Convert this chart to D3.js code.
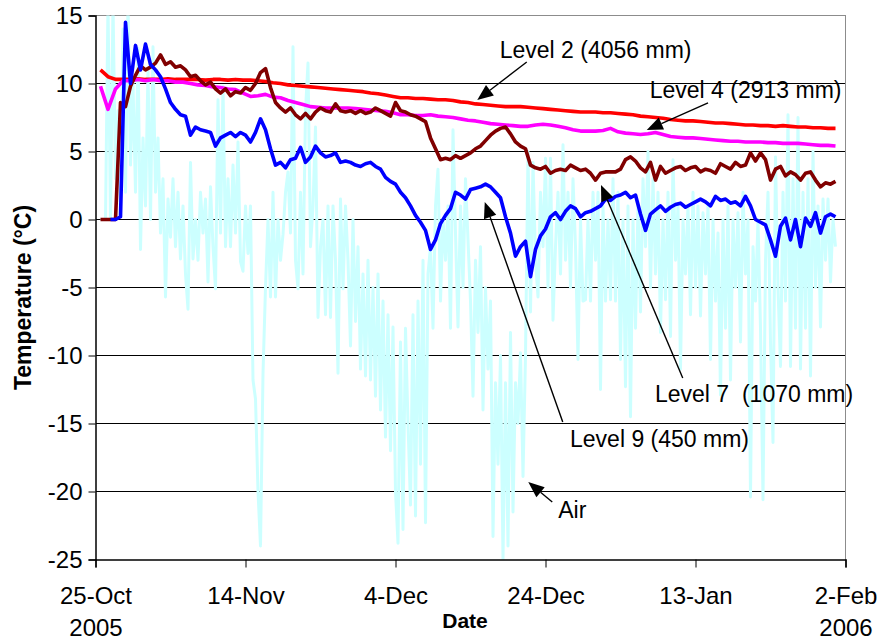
<!DOCTYPE html>
<html>
<head>
<meta charset="utf-8">
<script src="https://cdn.jsdelivr.net/npm/d3@7"></script>
<style>
  body { margin: 0; background: #fff; }
  text { font-family: "Liberation Sans", Arial, sans-serif; fill: #000; }
</style>
</head>
<body>
<svg id="chart" width="881" height="640"></svg>
<script>
// ---- axis ticks ----
const yTicks = [15, 10, 5, 0, -5, -10, -15, -20, -25];
const xTickDates = ["2005-10-25", "2005-11-14", "2005-12-04", "2005-12-24", "2006-01-13", "2006-02-02"];
const xTickYears = ["2005", "", "", "", "", "2006"];

// ---- series: first reading (hours after 25-Oct 00:00), interval (hours), values in °C ----
const level2Start = 16, level2Step = 24;
const level2 = [11.0, 10.5, 10.3, 10.3, 10.3, 10.35, 10.3, 10.3, 10.3, 10.35, 10.3, 10.3, 10.3, 10.3, 10.25, 10.3, 10.3, 10.25, 10.3, 10.25,
  10.25, 10.2, 10.15, 10.05, 10.0, 9.9, 9.85, 9.8, 9.75, 9.7, 9.65, 9.6, 9.55, 9.5, 9.45, 9.4, 9.3, 9.25, 9.15, 9.05,
  8.95, 8.95, 8.9, 8.9, 8.85, 8.8, 8.8, 8.75, 8.65, 8.6, 8.5, 8.45, 8.4, 8.35, 8.3, 8.3, 8.3, 8.25, 8.2, 8.15,
  8.1, 8.05, 8.0, 7.95, 7.9, 7.9, 7.9, 7.85, 7.85, 7.8, 7.75, 7.7, 7.6, 7.55, 7.5, 7.45, 7.35, 7.3, 7.25, 7.25,
  7.2, 7.15, 7.1, 7.1, 7.05, 7.0, 6.95, 6.95, 6.9, 6.9, 6.85, 6.9, 6.85, 6.8, 6.8, 6.75, 6.75, 6.7, 6.7];

const level4Start = 16, level4Step = 24;
const level4 = [9.8, 8.1, 9.6, 10.2, 10.2, 10.3, 10.2, 10.3, 10.2, 10.2, 10.1, 10.1, 10.0, 9.9, 9.85, 9.75, 9.7, 9.6, 9.55, 9.3,
  9.05, 9.1, 9.2, 9.0, 8.95, 8.75, 8.6, 8.45, 8.3, 8.25, 8.2, 8.2, 8.2, 8.2, 8.15, 8.1, 8.05, 8.0, 7.95, 7.85,
  7.7, 7.7, 7.65, 7.65, 7.7, 7.6, 7.55, 7.5, 7.4, 7.3, 7.25, 7.15, 7.05, 7.0, 6.95, 6.9, 6.85, 6.85, 6.95, 7.0,
  6.95, 6.85, 6.75, 6.6, 6.5, 6.5, 6.5, 6.55, 6.7, 6.45, 6.35, 6.3, 6.25, 6.3, 6.4, 6.25, 6.1, 6.05, 6.0, 6.0,
  5.95, 5.9, 5.85, 5.8, 5.75, 5.75, 5.7, 5.7, 5.7, 5.65, 5.65, 5.6, 5.6, 5.6, 5.55, 5.5, 5.45, 5.45, 5.4];

const level7Start = 16, level7Step = 16;
const level7 = [0, 0, 0, 0, 8.6, 8.3, 9.8, 10.6, 11.3, 11.0, 11.2, 11.5, 12.1, 11.4, 11.6, 11.2, 11.3, 11.0, 10.5, 10.6,
  10.2, 9.9, 10.1, 9.6, 9.3, 9.6, 9.1, 9.4, 9.3, 9.7, 9.5, 10.0, 10.8, 11.1, 9.7, 8.6, 8.2, 7.9, 8.2, 7.7,
  7.4, 7.8, 7.4, 7.9, 8.2, 8.0, 7.9, 8.5, 8.0, 7.9, 8.0, 7.8, 8.0, 7.8, 7.9, 8.2, 8.0, 7.8, 7.6, 8.6,
  8.0, 7.9, 7.7, 7.6, 7.4, 7.2, 6.0, 5.2, 4.4, 4.5, 4.4, 4.7, 4.5, 4.7, 4.9, 5.2, 5.4, 5.8, 6.2, 6.5,
  6.7, 6.8, 6.3, 5.7, 5.4, 5.2, 4.0, 3.8, 3.7, 3.9, 3.4, 3.6, 3.7, 3.6, 4.0, 3.8, 3.6, 3.7, 3.4, 2.9,
  3.4, 3.5, 3.5, 3.5, 3.7, 4.4, 4.6, 4.3, 3.8, 3.5, 4.2, 2.9, 3.9, 3.4, 3.6, 3.8, 3.9, 3.6, 3.8, 3.9,
  3.5, 3.7, 3.6, 3.4, 4.1, 3.9, 3.7, 4.2, 3.9, 4.0, 4.9, 4.3, 4.9, 4.4, 2.9, 3.7, 3.9, 3.2, 3.5, 3.3,
  2.9, 3.4, 3.5, 2.9, 2.4, 2.7, 2.6, 2.8];

const level9Start = 48, level9Step = 16;
const level9 = [0, 0, 0.2, 14.5, 10.0, 12.8, 11.0, 12.9, 11.4, 11.0, 10.5, 9.6, 8.6, 8.1, 7.7, 7.6, 6.2, 6.8, 6.6, 6.5,
  6.4, 5.4, 6.0, 6.2, 6.4, 6.1, 6.4, 6.2, 5.7, 6.4, 7.4, 6.6, 5.2, 4.0, 4.2, 3.8, 4.4, 4.5, 5.3, 4.2,
  4.6, 5.4, 4.9, 4.6, 4.7, 4.9, 4.2, 4.3, 4.2, 4.0, 3.9, 4.1, 4.2, 3.9, 3.7, 3.1, 2.8, 2.6, 2.0, 1.6,
  1.0, 0.3, -0.2, -0.8, -2.2, -1.5, -0.3, 0.3, 0.8, 2.0, 1.8, 1.5, 2.2, 2.3, 2.4, 2.6, 2.4, 2.0, 1.6, 0.2,
  -1.0, -2.7, -2.0, -1.6, -4.2, -2.2, -1.2, -0.7, 0.2, 0.5, 0.0, 0.6, 1.0, 0.8, 0.2, 0.5, 0.6, 0.8, 1.0, 1.5,
  1.4, 1.7, 1.8, 2.0, 1.6, 1.8, 0.4, -0.8, 0.4, 0.7, 1.0, 0.6, 0.9, 1.1, 1.2, 0.9, 1.1, 1.3, 1.5, 1.3,
  1.0, 1.7, 1.4, 1.5, 1.2, 1.3, 1.0, 1.7, 1.0, 0.0, -0.2, -0.4, -1.5, -2.7, -0.5, 0.1, -1.5, 0.0, -2.0, 0.1,
  -0.5, 0.5, -1.0, 0.2, 0.4, 0.2];

const airStart = 16, airStep = 8;
const air = [0, 0, 0, 16, 0, 16, 3, 8, 1, 14, 2, 16, 4, 10, 2, 12.6, -2.2, 6, 1, 11,
  0, 12.7, 2, 6, -1, 3, -5.7, 1.5, -1.3, 3, -2, 2, -2.9, 1, -4, -6.6, 4.2, -2.9, 0, -3,
  2, -1, 1.5, -4.6, 2.4, -2, -5.1, 8.8, -1, 9.8, -2, 3, -2, 4, -1, 5.7, -3.1, -3.8, 1, -2.5,
  1, -11.8, -13.2, -20, -24, -11.3, -5, 0, -5.7, 2, -5.7, 0, -3, -1.1, 2, 3.5, -1, 12.7, -3, -5.1,
  2, -4, 8, 11.5, -2, 1, 6.8, -7.2, -2, 0, -7, 1, -7.2, 1, -3, -11.3, 1.5, -5.1, 1, -3,
  -9.3, 0, -7.5, -2, -11, -4, -11.5, -3, -11.8, -5, -13, -4, -14, -6, -16, -7, -17, -7.9, -20, -23.8,
  -9, -22.8, -8, -15, -21, -7, -21.8, -6, -18, -3, -22.3, -4, -2, -8, 1, 3.7, -6, 0, -3, 1,
  -8, 6.6, -1, -7.9, 1, -5, 3, -1.5, -6, -13, -3, -8.3, -2, -14, -5, -11, -6, -23.3, -12, -18,
  -10, -25, -12, -24, -8.3, -21.5, -12, -15, -9.8, -18.9, -10, 5, -6.8, 4.2, -3, -5.7, 2, -2, 4.5, -5,
  4.5, -7.4, -2, 2, -4, 5.5, -3, 2, -5, 3, -2, -10.3, 0, -6, -5.9, 0, -6, 2, -3, 2,
  -12.5, 1, -6, 0, -5.9, 3, -6, 2, -10.3, 0, -12.3, 1, -14.5, 0, -8, 1, -6.8, 3, -2, 5,
  -5, 3, -4, 2, -8.3, 0, -5.9, 2, -8.6, 4.4, -3, 1, -11, 0, -4, 1, -7, 2, -5, 1,
  -7.1, 0.5, -4, 1, -10.3, 0, -6, -1, -12.9, 0, -8, 1, -11.8, 0, -5, 0.5, -9, 2, -4, 0,
  -20.4, -2, -6, 0, -8, -20.6, -3, 2, -9, -16.4, 4.6, -5, -10.8, 2, -6, 7.7, -10.8, 3, -8, 7.5,
  -11, 2, -8, 3, -11.5, 5, -5, 1, -7.9, 1.5, -3, 1.5, -4.6, 0, -2];

// ---- callouts: label, label anchor [day, °C], arrow tail and tip [day, °C] ----
const callouts = [
  { label: "Level 2 (4056 mm)",  text: [53.9, 11.87],  tail: [57.5, 11.58],  tip: [50.9, 8.79] },
  { label: "Level 4 (2913 mm)",  text: [73.9, 8.93],   tail: [81.67, 8.57],  tip: [73.5, 6.58] },
  { label: "Level 7  (1070 mm)", text: [74.6, -13.42], tail: [78.3, -11.65], tip: [67.4, 2.54] },
  { label: "Level 9 (450 mm)",   text: [63.27, -16.73], tail: [62.3, -14.89], tip: [51.9, 1.29] },
  { label: "Air",                text: [61.7, -21.95], tail: [60.9, -20.77], tip: [57.7, -19.3] }
];

// ---- layout ----
const svg = d3.select("#chart");
const origin = new Date(Date.UTC(2005, 9, 25));
const HOUR = 3600 * 1000;
const dayToDate = d => new Date(origin.getTime() + d * 24 * HOUR);

const x = d3.scaleUtc()
  .domain([d3.utcParse("%Y-%m-%d")(xTickDates[0]), d3.utcParse("%Y-%m-%d")(xTickDates[xTickDates.length - 1])])
  .range([95.5, 845.5]);
const y = d3.scaleLinear().domain([-25, 15]).range([559.5, 15.5]);

const plotLeft = x.range()[0], plotRight = x.range()[1];
const plotTop = y.range()[1], plotBottom = y.range()[0];

// gridlines
svg.append("g")
  .selectAll("line")
  .data(yTicks.filter(v => v > -25 && v < 15))
  .join("line")
  .attr("x1", plotLeft).attr("x2", plotRight)
  .attr("y1", d => y(d)).attr("y2", d => y(d))
  .attr("stroke", "#000").attr("stroke-width", 1)
  .attr("shape-rendering", "crispEdges");

// top and right frame
svg.append("path")
  .attr("d", `M${plotLeft},${plotTop}H${plotRight}V${plotBottom}`)
  .attr("fill", "none").attr("stroke", "#8c8c8c").attr("stroke-width", 1.5)
  .attr("shape-rendering", "crispEdges");

// series
function toPoints(startHours, stepHours, values) {
  return values.map((v, i) => ({ t: new Date(origin.getTime() + (startHours + i * stepHours) * HOUR), v }));
}
const series = [
  { pts: toPoints(airStart, airStep, air), color: "#ccffff", w: 3 },
  { pts: toPoints(level2Start, level2Step, level2), color: "#ff0000", w: 3.6 },
  { pts: toPoints(level4Start, level4Step, level4), color: "#ff00ff", w: 3.6 },
  { pts: toPoints(level7Start, level7Step, level7), color: "#800000", w: 3.6 },
  { pts: toPoints(level9Start, level9Step, level9), color: "#0000ff", w: 3.6 }
];

svg.append("clipPath").attr("id", "plotClip")
  .append("rect").attr("x", plotLeft).attr("y", plotTop)
  .attr("width", plotRight - plotLeft).attr("height", plotBottom - plotTop);

const line = d3.line().x(d => x(d.t)).y(d => y(d.v));
svg.append("g").attr("clip-path", "url(#plotClip)")
  .selectAll("path")
  .data(series)
  .join("path")
  .attr("d", d => line(d.pts))
  .attr("fill", "none")
  .attr("stroke", d => d.color)
  .attr("stroke-width", d => d.w)
  .attr("stroke-linejoin", "round");

// y axis
const yAxis = svg.append("g")
  .attr("transform", `translate(${plotLeft},0)`)
  .call(d3.axisLeft(y).tickValues(yTicks).tickSize(7).tickPadding(6).tickFormat(d3.format("d")));
yAxis.select(".domain").attr("stroke", "#000").attr("stroke-width", 1.5);
yAxis.selectAll(".tick line").attr("stroke", "#000");
yAxis.selectAll(".tick text").attr("font-size", 24).attr("font-family", "Liberation Sans, Arial, sans-serif")
  .text(d => d < 0 ? "-" + Math.abs(d) : d);

// x axis
const tickDates = xTickDates.map(d3.utcParse("%Y-%m-%d"));
const xAxis = svg.append("g")
  .attr("transform", `translate(0,${plotBottom})`)
  .call(d3.axisBottom(x).tickValues(tickDates).tickSize(8).tickPadding(19).tickFormat(d3.utcFormat("%-d-%b")));
xAxis.select(".domain").attr("stroke", "#000").attr("stroke-width", 1.5);
xAxis.selectAll(".tick line").attr("stroke", "#000");
xAxis.selectAll(".tick text").attr("font-size", 24).attr("font-family", "Liberation Sans, Arial, sans-serif")
  .each(function (d, i) {
    if (xTickYears[i]) {
      d3.select(this.parentNode).append("text")
        .attr("x", 0).attr("y", 76)
        .attr("text-anchor", "middle")
        .attr("font-size", 24)
        .attr("fill", "#000")
        .text(xTickYears[i]);
    }
  });

// axis titles
svg.append("text")
  .attr("transform", `translate(31,${(plotTop + plotBottom) / 2 + 10}) rotate(-90)`)
  .attr("text-anchor", "middle")
  .attr("font-size", 23).attr("font-weight", "bold")
  .text("Temperature (°C)");
svg.append("text")
  .attr("x", 465).attr("y", 628)
  .attr("text-anchor", "middle")
  .attr("font-size", 21).attr("font-weight", "bold")
  .text("Date");

// callouts
const g = svg.append("g");
callouts.forEach(c => {
  const tx = x(dayToDate(c.tail[0])), ty = y(c.tail[1]);
  const px = x(dayToDate(c.tip[0])), py = y(c.tip[1]);
  const ang = Math.atan2(py - ty, px - tx);
  const len = 16, half = 6.5;
  const bx = px - len * Math.cos(ang), by = py - len * Math.sin(ang);
  g.append("line")
    .attr("x1", tx).attr("y1", ty).attr("x2", bx).attr("y2", by)
    .attr("stroke", "#000").attr("stroke-width", 1.4);
  g.append("path")
    .attr("d", `M${px},${py}L${bx + half * Math.sin(ang)},${by - half * Math.cos(ang)}L${bx - half * Math.sin(ang)},${by + half * Math.cos(ang)}Z`)
    .attr("fill", "#000");
  g.append("text")
    .attr("x", x(dayToDate(c.text[0]))).attr("y", y(c.text[1]))
    .attr("font-size", 23)
    .style("white-space", "pre")
    .text(c.label);
});
</script>
</body>
</html>
